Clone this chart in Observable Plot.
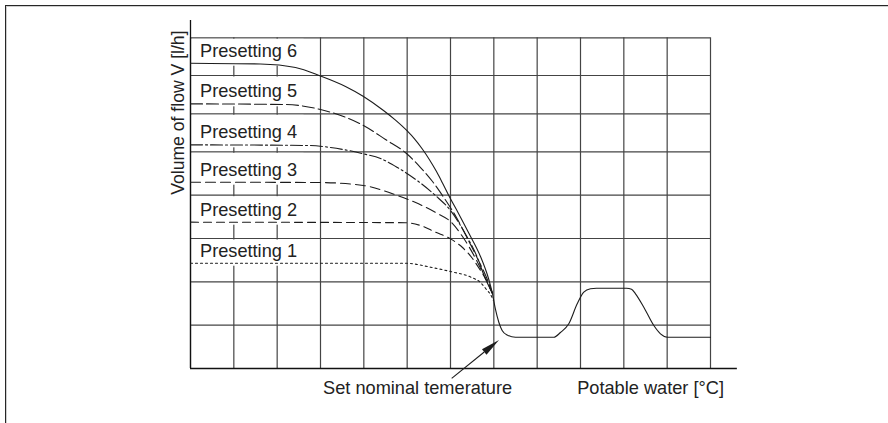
<!DOCTYPE html>
<html>
<head>
<meta charset="utf-8">
<script src="https://cdn.jsdelivr.net/npm/d3@7"></script>
<script src="https://cdn.jsdelivr.net/npm/@observablehq/plot@0.6"></script>
<style>
  html, body { margin: 0; padding: 0; background: #fff; }
  #wrap { position: relative; width: 888px; height: 423px; overflow: hidden; }
  #wrap svg { display: block; }
  #border { position: absolute; left: 5px; top: 5px; width: 900px; height: 440px;
            border-top: 1.5px solid #262626; border-left: 1.5px solid #262626;
            box-shadow: inset 1px 1px 0 #cfcfcf; pointer-events: none; }
</style>
</head>
<body>
<div id="wrap"><div id="border"></div></div>
<script>
// ---- data (grid units: x = temperature divisions, y = flow divisions) ----
const xTicks = [0, 1, 2, 3, 4, 5, 6, 7, 8, 9, 10, 11, 12];
const yTicks = [0, 1, 2, 3, 4, 5, 5.878, 6.762, 7.632];
const presetLabels = ["Presetting 1", "Presetting 2", "Presetting 3", "Presetting 4", "Presetting 5", "Presetting 6"];

const presetting1 = [[0,2.43],[4.962,2.43],[5.538,2.338],[6.0,2.238],[6.462,2.112],[6.692,1.985],[6.831,1.823],[6.923,1.708],[6.992,1.569]];
const presetting2 = [[0,3.377],[4.962,3.365],[5.308,3.3],[5.654,3.146],[6.0,2.992],[6.277,2.792],[6.508,2.538],[6.692,2.262],[6.831,2.031],[6.969,1.731]];
const presetting3 = [[0,4.3],[3.0,4.292],[3.992,4.223],[4.777,3.992],[5.262,3.8],[5.7,3.577],[6.0,3.392],[6.277,3.046],[6.554,2.585],[6.785,2.123],[6.969,1.731]];
const presetting4 = [[0,5.162],[2.769,5.146],[3.231,5.1],[3.992,4.954],[4.385,4.846],[4.777,4.638],[5.262,4.315],[5.654,3.992],[6.0,3.646],[6.346,3.1],[6.6,2.608],[6.785,2.123],[6.969,1.731]];
const presetting5 = [[0,6.108],[2.192,6.092],[3.0,5.977],[3.992,5.608],[4.5,5.285],[4.985,4.962],[5.308,4.638],[5.585,4.315],[5.862,3.923],[6.138,3.485],[6.415,2.954],[6.646,2.492],[6.831,2.1],[6.969,1.731]];
const presetting6 = [[0,7.046],[1.615,7.027],[2.423,6.946],[3.0,6.75],[3.577,6.508],[3.992,6.277],[4.454,5.954],[4.731,5.731],[5.001,5.482],[5.169,5.3],[5.354,5.06],[5.515,4.818],[5.677,4.544],[5.815,4.281],[5.954,4.004],[6.185,3.577],[6.415,3.138],[6.692,2.585],[6.877,2.077],[6.969,1.731]];
// common course after the set nominal temperature (potable water flow)
const commonTail = [[6.969,1.731],[7.038,1.362],[7.115,1.068],[7.192,0.877],[7.308,0.773],[7.5,0.722],[8.384,0.722],[8.538,0.831],[8.73,1.032],[8.924,1.493],[9.076,1.761],[9.231,1.839],[9.369,1.853],[10.062,1.853],[10.177,1.83],[10.269,1.724],[10.461,1.415],[10.692,0.992],[10.846,0.801],[11.008,0.722],[12,0.722]];

const yAxisLabel = "Volume of flow V [l/h]";
const annotationLabels = ["Set nominal temerature", "Potable water [°C]"];
const arrowFrom = [6.039, -0.238];
const arrowTo = [7.131, 0.646];

// ---- tables built from the arrays ----
const seriesPts = [presetting1, presetting2, presetting3, presetting4, presetting5, presetting6];
const dashes = ["2,3", "8,5", "10,5", "12,3,2,3", "12,4", null];
const labelRows = presetLabels.map((label, i) => {
  const flat = seriesPts[i][0][1];
  const top = d3.min(yTicks.filter(t => t > flat));
  return {label, flat, top};
});
const yTop = yTicks[yTicks.length - 1];
const ink = "#1c1c1c";

function arrowMark(index, scales) {
  const x0 = scales.x(arrowFrom[0]), y0 = scales.y(arrowFrom[1]);
  const x1 = scales.x(arrowTo[0]), y1 = scales.y(arrowTo[1]);
  const dx = x1 - x0, dy = y1 - y0, len = Math.hypot(dx, dy);
  const ux = dx / len, uy = dy / len;
  const hl = 19, hw = 3.6;
  const bx = x1 - ux * hl, by = y1 - uy * hl;
  const g = d3.create("svg:g");
  g.append("line").attr("x1", x0).attr("y1", y0).attr("x2", bx).attr("y2", by)
    .attr("stroke", ink).attr("stroke-width", 1.1);
  g.append("path")
    .attr("d", `M${x1},${y1}L${bx - uy * hw},${by + ux * hw}L${bx + uy * hw},${by - ux * hw}Z`)
    .attr("fill", ink);
  return g.node();
}

const font = "'Liberation Sans', Arial, Helvetica, sans-serif";
const fs = 18.2;

const chart = Plot.plot({
  width: 888,
  height: 423,
  marginLeft: 190,
  marginRight: 178,
  marginTop: 37.3,
  marginBottom: 55,
  x: {domain: [0, 12], axis: null},
  y: {domain: [0, yTop], axis: null},
  style: {fontFamily: font, fontSize: fs + "px", color: "#222", background: "transparent", overflow: "visible"},
  marks: [
    Plot.ruleX(xTicks, {y1: 0, y2: yTop, stroke: "#444", strokeWidth: 1.2}),
    Plot.ruleY(yTicks, {x1: 0, x2: 12, stroke: "#444", strokeWidth: 1.2}),
    Plot.rect(labelRows, {x1: 0, x2: 2.62, y1: "flat", y2: "top", fill: "white", insetLeft: 2, insetTop: 1.5, insetBottom: -3}),
    Plot.ruleX([0], {y1: 0, y2: 8.03, stroke: "#111", strokeWidth: 1.3}),
    Plot.ruleY([0], {x1: 0, x2: 12.62, stroke: "#111", strokeWidth: 1.3}),
    ...seriesPts.map((pts, i) => Plot.line(pts, {
      x: d => d[0], y: d => d[1], curve: "monotone-x",
      stroke: ink, strokeWidth: 1.1, strokeDasharray: dashes[i]
    })),
    Plot.line(commonTail, {x: d => d[0], y: d => d[1], curve: "monotone-x", stroke: ink, strokeWidth: 1.1}),
    Plot.text(labelRows, {x: 0, y: "flat", text: "label", dx: 9.5, dy: -6.5, textAnchor: "start", lineAnchor: "bottom", fontSize: fs, fill: "#222"}),
    Plot.text([yAxisLabel], {frameAnchor: "left", text: d => d, rotate: -90, dx: -7, dy: -90.5, textAnchor: "middle", lineAnchor: "bottom", fontSize: 17.6, fill: "#222"}),
    Plot.text([annotationLabels[0]], {x: 3.06, y: 0, text: d => d, dy: 25, textAnchor: "start", lineAnchor: "bottom", fontSize: fs, fill: "#222"}),
    Plot.text([annotationLabels[1]], {x: 12.31, y: 0, text: d => d, dy: 25, textAnchor: "end", lineAnchor: "bottom", fontSize: fs, fill: "#222"}),
    arrowMark
  ]
});
document.getElementById("wrap").insertBefore(chart, document.getElementById("border"));
</script>
</body>
</html>
